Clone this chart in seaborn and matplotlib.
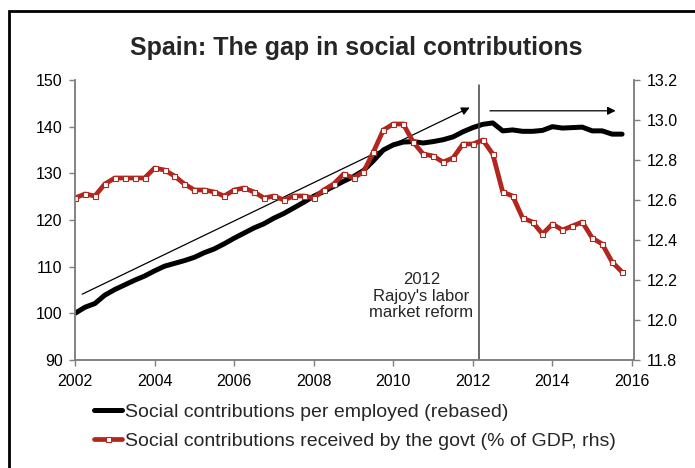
import numpy as np
import pandas as pd
import matplotlib
matplotlib.use("Agg")
import matplotlib.pyplot as plt
from matplotlib.lines import Line2D
from matplotlib.patches import Rectangle
import seaborn as sns

# Quarterly observations, 2002Q1 - 2015Q4
quarters = pd.period_range("2002Q1", "2015Q4", freq="Q")

# Social contributions per employed, rebased (2002Q1 = 100), left axis
contrib_per_employed = [
    100.0, 101.3, 102.1, 103.9, 105.1, 106.1, 107.1, 108.0,
    109.1, 110.1, 110.7, 111.3, 112.0, 113.0, 113.8, 114.9,
    116.1, 117.2, 118.3, 119.2, 120.4, 121.4, 122.6, 123.8,
    125.1, 126.1, 127.2, 128.3, 129.3, 130.6, 132.7, 135.0,
    136.1, 136.7, 136.8, 136.5, 136.8, 137.2, 137.8, 138.9,
    139.8, 140.5, 140.8, 139.1, 139.3, 139.0, 139.0, 139.2,
    140.0, 139.7, 139.8, 139.9, 139.1, 139.1, 138.4, 138.4,
]

# Social contributions received by the government, % of GDP, right axis
contrib_pct_gdp = [
    12.61, 12.63, 12.62, 12.68, 12.71, 12.71, 12.71, 12.71,
    12.76, 12.75, 12.72, 12.68, 12.65, 12.65, 12.64, 12.62,
    12.65, 12.66, 12.64, 12.61, 12.62, 12.60, 12.62, 12.62,
    12.61, 12.65, 12.68, 12.73, 12.71, 12.74, 12.84, 12.95,
    12.98, 12.98, 12.89, 12.83, 12.82, 12.79, 12.81, 12.88,
    12.88, 12.90, 12.83, 12.64, 12.62, 12.51, 12.49, 12.43,
    12.48, 12.45, 12.47, 12.49, 12.41, 12.38, 12.29, 12.24,
]

label_black = "Social contributions per employed (rebased)"
label_red = "Social contributions received by the govt (% of GDP, rhs)"
title = "Spain: The gap in social contributions"
reform_text = "2012\nRajoy's labor\nmarket reform"
reform_date = 2012.15

left_ticks = [90, 100, 110, 120, 130, 140, 150]
right_ticks = [11.8, 12.0, 12.2, 12.4, 12.6, 12.8, 13.0, 13.2]
x_ticks = [2002, 2004, 2006, 2008, 2010, 2012, 2014, 2016]

df = pd.DataFrame({
    "t": quarters.year + (quarters.quarter - 1) / 4.0,
    "per_employed": contrib_per_employed,
    "pct_gdp": contrib_pct_gdp,
})

sns.set_style("ticks")
plt.rcParams["font.family"] = ["Liberation Sans", "DejaVu Sans"]

RED = "#B3261E"
SPINE = "#7f7f7f"

fig = plt.figure(figsize=(6.95, 4.68), dpi=100)
ax = fig.add_axes([75 / 695, 1 - 360 / 468, (634 - 75) / 695, 280 / 468])
ax2 = ax.twinx()

sns.lineplot(data=df, x="t", y="per_employed", ax=ax, color="black",
             linewidth=3.6, legend=False)
sns.lineplot(data=df, x="t", y="pct_gdp", ax=ax2, color=RED,
             linewidth=3.4, marker="s", markersize=3.6,
             markerfacecolor="white", markeredgecolor=RED,
             markeredgewidth=0.8, legend=False)

ax.set_xlim(2002, 2016.05)
ax.set_ylim(90, 150)
ax2.set_ylim(11.8, 13.2)
ax.set_xticks(x_ticks)
ax.set_yticks(left_ticks)
ax2.set_yticks(right_ticks)
ax2.set_yticklabels([f"{v:.1f}" for v in right_ticks])
ax.set_xlabel("")
ax.set_ylabel("")
ax2.set_ylabel("")

for a in (ax, ax2):
    a.spines["top"].set_visible(False)
    for s in ("left", "right", "bottom"):
        a.spines[s].set_color(SPINE)
        a.spines[s].set_linewidth(1.1)
    a.tick_params(axis="both", direction="out", length=4, width=1.0,
                  color=SPINE, labelsize=11.5, labelcolor="black", pad=5)
ax.tick_params(axis="x", pad=6)

# Reform marker and trend arrows
ax.axvline(reform_date, ymin=0, ymax=0.982, color="#404040", linewidth=1.1)
ax.annotate("", xy=(2011.92, 144.1), xytext=(2002.18, 104.1),
            arrowprops=dict(arrowstyle="-|>", color="black", lw=0.9,
                            mutation_scale=12, shrinkA=0, shrinkB=0))
ax.annotate("", xy=(2015.59, 143.4), xytext=(2012.43, 143.4),
            arrowprops=dict(arrowstyle="-|>", color="black", lw=0.9,
                            mutation_scale=12, shrinkA=0, shrinkB=0))
ax.text(2010.71, 103.7, reform_text, ha="center", va="center",
        fontsize=12, linespacing=1.15)

fig.text(356 / 695, 1 - 48 / 468, title, ha="center", va="center",
         fontsize=18, fontweight="bold")

handles = [
    Line2D([], [], color="black", linewidth=3.6),
    Line2D([], [], color=RED, linewidth=3.4, marker="s", markersize=3.6,
           markerfacecolor="white", markeredgecolor=RED, markeredgewidth=0.8),
]
fig.legend(handles, [label_black, label_red], loc="upper left",
           bbox_to_anchor=(94 / 695, 1 - 403 / 468), frameon=False,
           fontsize=14, handlelength=1.45, handletextpad=0.15,
           labelspacing=0.6, borderpad=0, borderaxespad=0, markerscale=1.0)

# Outer chart frame
fig.add_artist(Rectangle((9 / 695, -0.05), 1.2, 1 - 10.5 / 468 + 0.05,
                         transform=fig.transFigure, fill=False,
                         edgecolor="black", linewidth=2.0, clip_on=False))

fig.savefig("out.png", dpi=100)
